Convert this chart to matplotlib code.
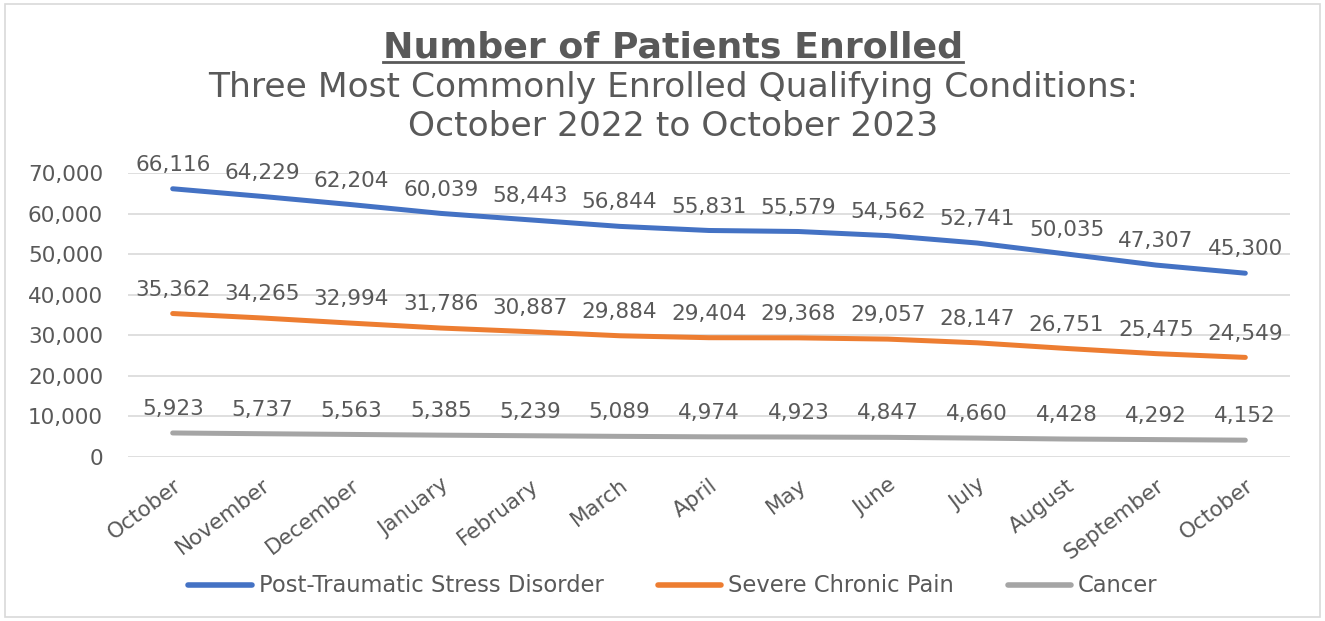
import matplotlib
matplotlib.use("Agg")
import matplotlib.pyplot as plt
from matplotlib.lines import Line2D
from matplotlib.patches import Rectangle

months = ["October", "November", "December", "January", "February", "March", "April",
          "May", "June", "July", "August", "September", "October"]
ptsd = [66116, 64229, 62204, 60039, 58443, 56844, 55831, 55579, 54562, 52741, 50035, 47307, 45300]
pain = [35362, 34265, 32994, 31786, 30887, 29884, 29404, 29368, 29057, 28147, 26751, 25475, 24549]
cancer = [5923, 5737, 5563, 5385, 5239, 5089, 4974, 4923, 4847, 4660, 4428, 4292, 4152]
series_names = ["Post-Traumatic Stress Disorder", "Severe Chronic Pain", "Cancer"]
yticks = [0, 10000, 20000, 30000, 40000, 50000, 60000, 70000]
title = "Number of Patients Enrolled"
subtitle1 = "Three Most Commonly Enrolled Qualifying Conditions:"
subtitle2 = "October 2022 to October 2023"

plt.rcParams['font.family'] = ['DejaVu Sans']
TXT = '#595959'
colors = ['#4472C4', '#ED7D31', '#A5A5A5']
FS = 15.5

W, H = 1325, 621
fig = plt.figure(figsize=(W / 100, H / 100), dpi=100)
fig.patches.append(Rectangle((0.004, 0.006), 0.992, 0.988, transform=fig.transFigure,
                             fill=False, edgecolor='#D9D9D9', linewidth=1.2))
ax = fig.add_axes([128 / W, 1 - 457 / H, 1162 / W, 284 / H])

x = list(range(len(months)))
for vals, c in zip([ptsd, pain, cancer], colors):
    ax.plot(x, vals, color=c, linewidth=3.6, solid_capstyle='round', zorder=3)
    for xi, v in zip(x, vals):
        ax.annotate(f"{v:,}", (xi, v), xytext=(0, 10), textcoords='offset points',
                    ha='center', va='bottom', fontsize=FS, color=TXT, annotation_clip=False)

ax.set_xlim(-0.5, 12.5)
ax.set_ylim(0, 70000)
ax.set_yticks(yticks)
ax.set_yticklabels([f"{t:,}" for t in yticks], fontsize=FS, color=TXT)
ax.set_xticks(x)
ax.set_xticklabels(months, rotation=37, ha='right', rotation_mode='anchor',
                   fontsize=FS, color=TXT)
ax.tick_params(axis='y', length=0, pad=18)
ax.tick_params(axis='x', length=0, pad=13)
ax.grid(axis='y', color='#D9D9D9', linewidth=1.2, zorder=0)
for s in ax.spines.values():
    s.set_visible(False)
for line in ax.get_lines():
    line.set_clip_on(False)

cx = 0.508
t = fig.text(cx, 1 - 47 / H, title, ha='center', va='center',
             fontsize=22, fontweight='bold', color=TXT)
s1 = fig.text(cx, 1 - 88 / H, subtitle1, ha='center', va='center', fontsize=19, color=TXT)
s2 = fig.text(cx, 1 - 127 / H, subtitle2, ha='center', va='center', fontsize=19, color=TXT)


def fit(txt, target_px):
    fig.canvas.draw()
    w = txt.get_window_extent().width
    txt.set_fontsize(txt.get_fontsize() * target_px / w)


fit(t, 579)
fit(s1, 932)
fig.canvas.draw()
s2.set_fontsize(s1.get_fontsize())

fig.canvas.draw()
bb = t.get_window_extent().transformed(fig.transFigure.inverted())
fig.add_artist(Line2D([bb.x0, bb.x1], [1 - 62 / H, 1 - 62 / H], color=TXT,
                      linewidth=2.0, transform=fig.transFigure))

handles = [Line2D([0], [0], color=c, linewidth=4, solid_capstyle='round') for c in colors]
leg = fig.legend(handles, series_names, loc='center', bbox_to_anchor=(cx, 1 - 586 / H), ncol=3,
                 frameon=False, fontsize=16.3, handlelength=2.8, handletextpad=0.3,
                 columnspacing=2.4)
for tx in leg.get_texts():
    tx.set_color(TXT)

fig.savefig("out.png", dpi=100)
